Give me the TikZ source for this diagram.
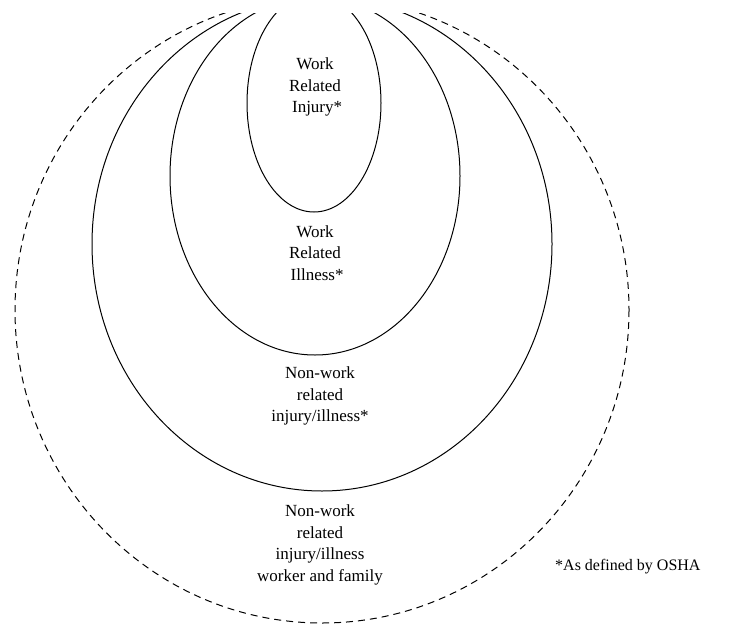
\documentclass[tikz,border=0pt]{standalone}
\usepackage{fontspec}
\setmainfont{Liberation Serif}
\begin{document}
\begin{tikzpicture}[x=1pt,y=-1pt,
  ring/.style={draw=black,line width=1pt},
  dashring/.style={draw=black,line width=1pt,dash pattern=on 7pt off 5pt},
  lbl/.style={align=center,font=\fontsize{17}{21.8}\selectfont,inner sep=0pt}]
\useasboundingbox[fill=white] (0,0) rectangle (749,629);
\begin{scope}
\clip (0,13) rectangle (749,629);
\draw[ring] (314,103) ellipse [x radius=67, y radius=109];
\draw[ring] (315,176) ellipse [x radius=145, y radius=179];
\draw[ring] (322,244) ellipse [x radius=230, y radius=247];
\draw[dashring] (322,310) ellipse [x radius=307, y radius=313];
\end{scope}
\node[lbl] (injury) at (315,87) {Work\\Related\\\ Injury*};
\node[lbl] (illness) at (315,253) {Work\\Related\\\ Illness*};
\node[lbl] (nonwork) at (320,396) {Non-work\\related\\injury/illness*};
\node[lbl] (family) at (320,545) {Non-work\\related\\injury/illness\\worker and family};
\node[lbl,anchor=west,font=\fontsize{16}{20}\selectfont] (osha) at (555,567) {*As defined by OSHA};
\end{tikzpicture}
\end{document}
